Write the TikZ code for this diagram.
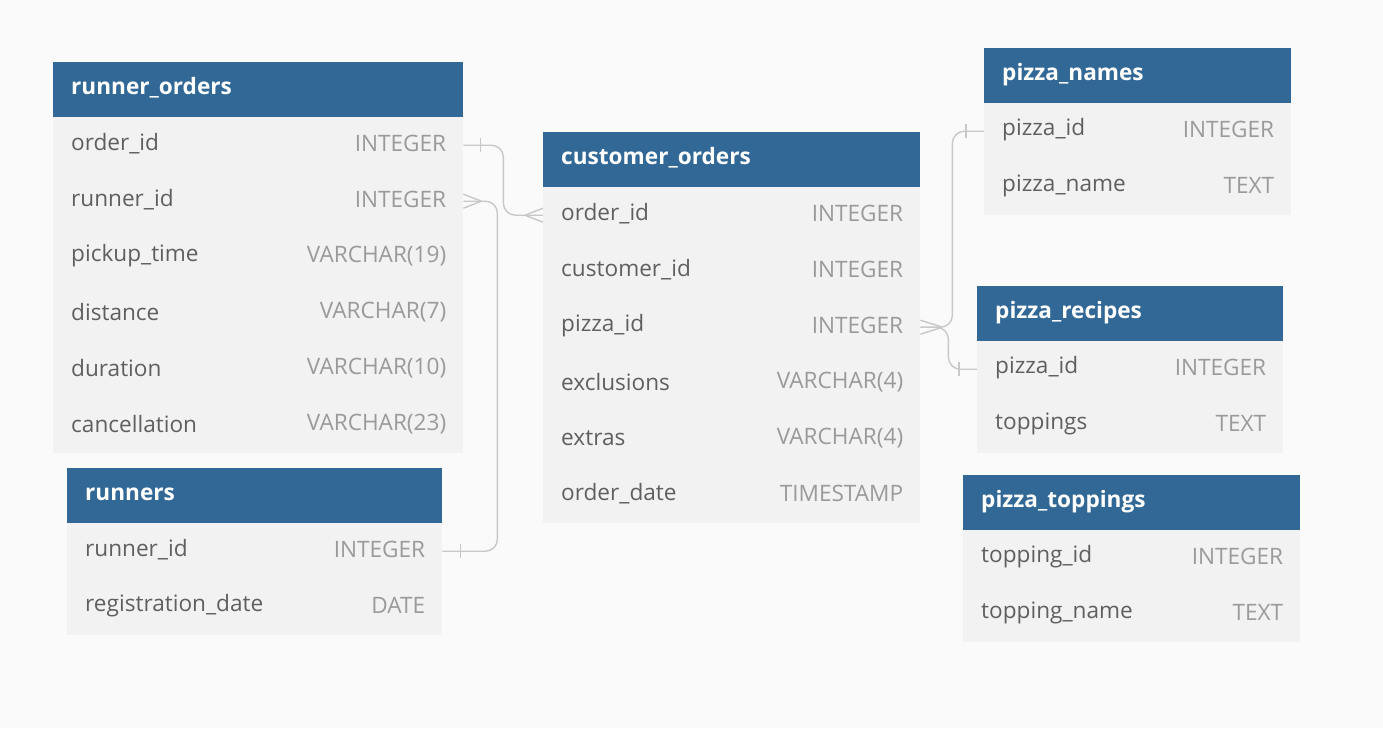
\documentclass[tikz,border=0pt]{standalone}
\usepackage{fontspec}
\setmainfont{Open Sans}
\definecolor{hdrblue}{HTML}{316896}
\definecolor{rowgray}{HTML}{F2F2F2}
\definecolor{bggray}{HTML}{FAFAFA}
\definecolor{namegray}{HTML}{5F5F5F}
\definecolor{typegray}{HTML}{9A9A9A}
\definecolor{linegray}{HTML}{C8C8C8}

\begin{document}
\begin{tikzpicture}[
        x=1pt, y=-1pt,
        hdr/.style={fill=hdrblue, minimum height=55pt, inner sep=0pt, anchor=north west},
        row/.style={fill=rowgray, minimum height=56pt, inner sep=0pt, anchor=north west},
        htxt/.style={anchor=west, yshift=1.5pt, text=white, font=\fontsize{22.6}{26}\selectfont\bfseries, inner sep=0pt},
        fld/.style={anchor=west, yshift=1.5pt, text=namegray, font=\fontsize{22.6}{26}\selectfont, inner sep=0pt},
        typ/.style={anchor=east, yshift=1.5pt, text=typegray, font=\fontsize{22.6}{26}\selectfont, inner sep=0pt},
        conn/.style={draw=linegray, line width=1.4pt},
    ]
    \fill[bggray] (0,0) rectangle (1383,728);
    \useasboundingbox (0,0) rectangle (1383,728);

    %% runner_orders
    \node[hdr, minimum width=410pt] (ro) at (53,62) {};
    \node[htxt] (ro-title) at ([xshift=18pt]ro.west) {runner\_orders};
    \foreach \n/\t [count=\i] in {order\_id/INTEGER, runner\_id/INTEGER,
            pickup\_time/VARCHAR(19), distance/VARCHAR(7),
            duration/VARCHAR(10), cancellation/VARCHAR(23)}{
        \node[row, minimum width=410pt] (ro-\i) at (53,61+56*\i) {};
        \node[fld] (ro-\i-n) at ([xshift=18pt]ro-\i.west) {\n};
        \node[typ] (ro-\i-t) at ([xshift=-17pt]ro-\i.east) {\t};
    }

    %% runners
    \node[hdr, minimum width=375pt] (rn) at (67,468) {};
    \node[htxt] (rn-title) at ([xshift=18pt]rn.west) {runners};
    \foreach \n/\t [count=\i] in {runner\_id/INTEGER, registration\_date/DATE}{
        \node[row, minimum width=375pt] (rn-\i) at (67,467+56*\i) {};
        \node[fld] (rn-\i-n) at ([xshift=18pt]rn-\i.west) {\n};
        \node[typ] (rn-\i-t) at ([xshift=-17pt]rn-\i.east) {\t};
    }

    %% customer_orders
    \node[hdr, minimum width=377pt] (co) at (543,132) {};
    \node[htxt] (co-title) at ([xshift=18pt]co.west) {customer\_orders};
    \foreach \n/\t [count=\i] in {order\_id/INTEGER, customer\_id/INTEGER,
            pizza\_id/INTEGER, exclusions/VARCHAR(4),
            extras/VARCHAR(4), order\_date/TIMESTAMP}{
        \node[row, minimum width=377pt] (co-\i) at (543,131+56*\i) {};
        \node[fld] (co-\i-n) at ([xshift=18pt]co-\i.west) {\n};
        \node[typ] (co-\i-t) at ([xshift=-17pt]co-\i.east) {\t};
    }

    %% pizza_names
    \node[hdr, minimum width=307pt] (pn) at (984,48) {};
    \node[htxt] (pn-title) at ([xshift=18pt]pn.west) {pizza\_names};
    \foreach \n/\t [count=\i] in {pizza\_id/INTEGER, pizza\_name/TEXT}{
        \node[row, minimum width=307pt] (pn-\i) at (984,47+56*\i) {};
        \node[fld] (pn-\i-n) at ([xshift=18pt]pn-\i.west) {\n};
        \node[typ] (pn-\i-t) at ([xshift=-17pt]pn-\i.east) {\t};
    }

    %% pizza_recipes
    \node[hdr, minimum width=306pt] (pr) at (977,286) {};
    \node[htxt] (pr-title) at ([xshift=18pt]pr.west) {pizza\_recipes};
    \foreach \n/\t [count=\i] in {pizza\_id/INTEGER, toppings/TEXT}{
        \node[row, minimum width=306pt] (pr-\i) at (977,285+56*\i) {};
        \node[fld] (pr-\i-n) at ([xshift=18pt]pr-\i.west) {\n};
        \node[typ] (pr-\i-t) at ([xshift=-17pt]pr-\i.east) {\t};
    }

    %% pizza_toppings
    \node[hdr, minimum width=337pt] (pt) at (963,475) {};
    \node[htxt] (pt-title) at ([xshift=18pt]pt.west) {pizza\_toppings};
    \foreach \n/\t [count=\i] in {topping\_id/INTEGER, topping\_name/TEXT}{
        \node[row, minimum width=337pt] (pt-\i) at (963,474+56*\i) {};
        \node[fld] (pt-\i-n) at ([xshift=18pt]pt-\i.west) {\n};
        \node[typ] (pt-\i-t) at ([xshift=-17pt]pt-\i.east) {\t};
    }

    %% relations
    \draw[conn, rounded corners=12pt] (ro-1.east) -- ++(40,0) |- (co-1.west);
    \draw[conn] ([xshift=17pt]ro-1.east) ++(0,-7) -- ++(0,14);
    \draw[conn] ([xshift=-18pt]co-1.west) -- ++(18,-7) ++(-18,7) -- ++(18,7);

    \draw[conn, rounded corners=12pt] (ro-2.east) -- ++(34,0) |- (rn-1.east);
    \draw[conn] ([xshift=18pt]ro-2.east) -- ++(-18,-7) ++(18,7) -- ++(-18,7);
    \draw[conn] ([xshift=18pt]rn-1.east) ++(0,-7) -- ++(0,14);

    \draw[conn, rounded corners=12pt] (co-3.east) -- ++(32,0) |- (pn-1.west);
    \draw[conn, rounded corners=12pt] (co-3.east) -- ++(28,0) |- (pr-1.west);
    \draw[conn] ([xshift=22pt]co-3.east) -- ++(-22,-7) ++(22,7) -- ++(-22,7);
    \draw[conn] ([xshift=-18pt]pn-1.west) ++(0,-7) -- ++(0,14);
    \draw[conn] ([xshift=-18pt]pr-1.west) ++(0,-7) -- ++(0,14);
\end{tikzpicture}
\end{document}
